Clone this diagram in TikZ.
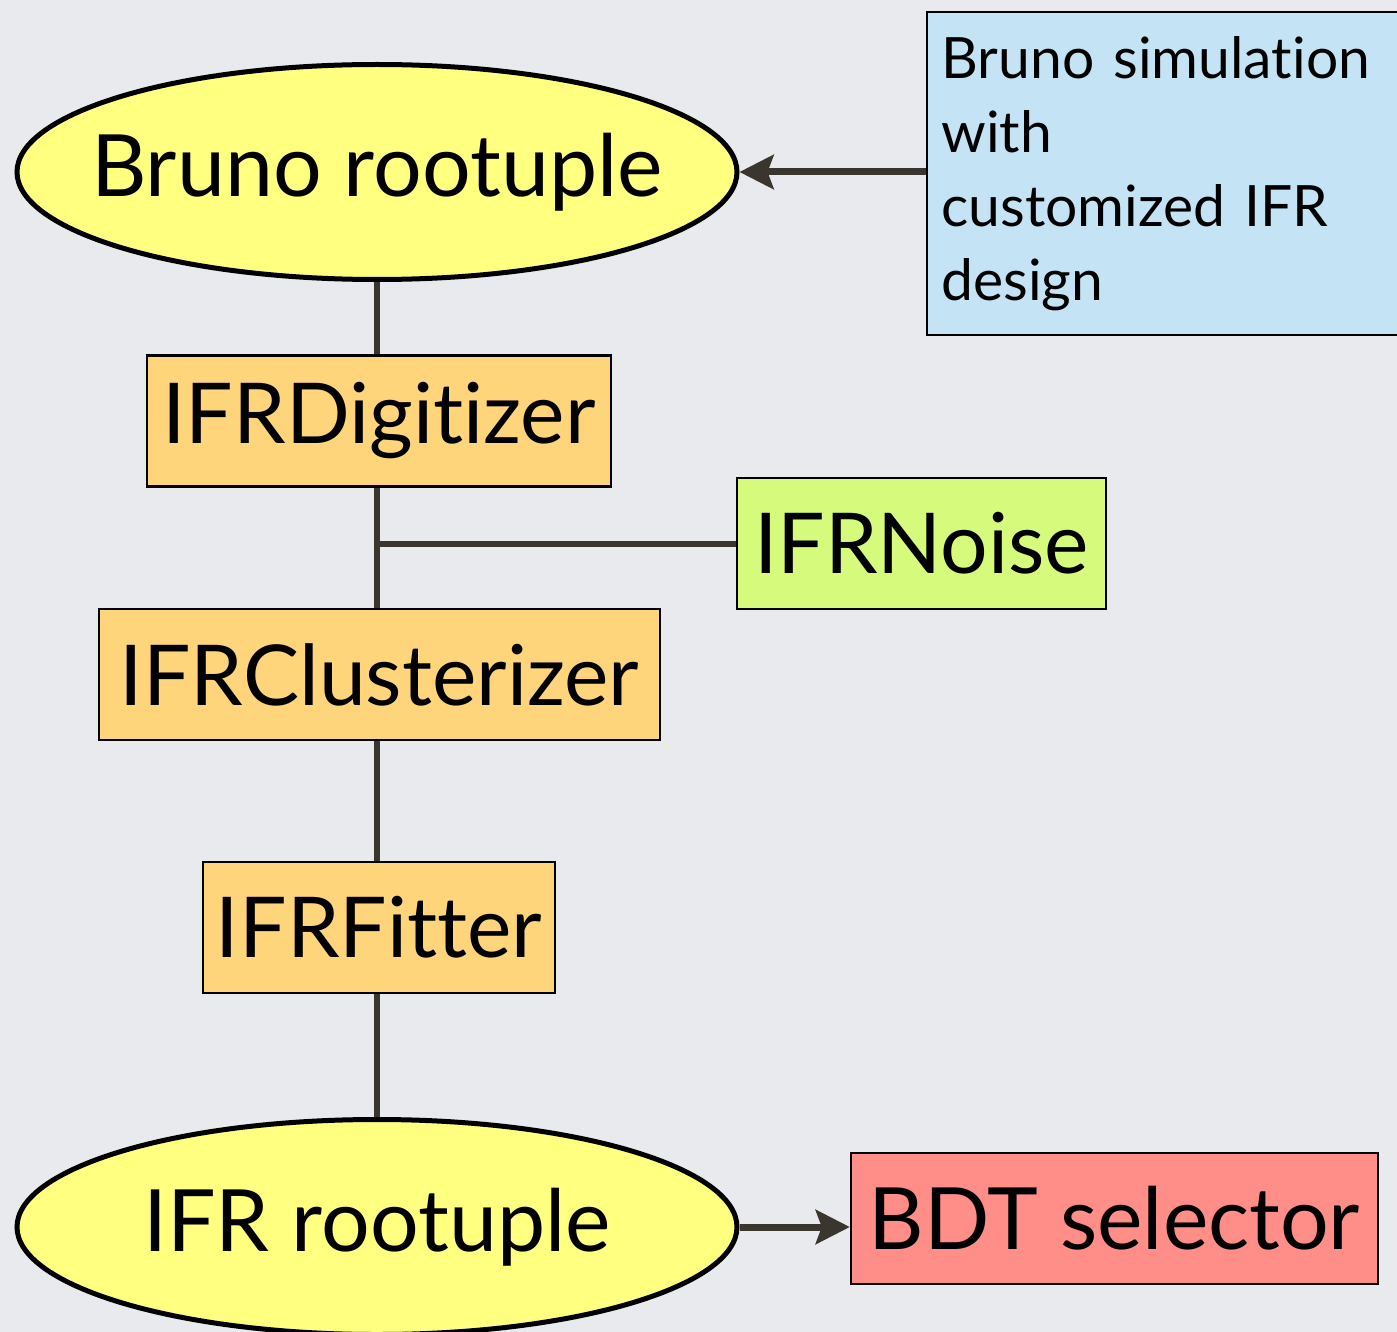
\documentclass[tikz,border=0pt]{standalone}
\usepackage{fontspec}
\setmainfont{Lato}[Ligatures=NoCommon]
\usetikzlibrary{shapes.geometric,arrows.meta}
\definecolor{bg}{HTML}{E9EAEE}
\definecolor{ylw}{HTML}{FFFF80}
\definecolor{org}{HTML}{FFD57C}
\definecolor{grn}{HTML}{D6FB7C}
\definecolor{blu}{HTML}{C4E3F4}
\definecolor{rd}{HTML}{FF8D88}
\definecolor{ln}{HTML}{3A362E}
\tikzset{
  ell/.style={ellipse, draw=black, line width=2.5pt, fill=ylw, minimum width=360pt, minimum height=107.5pt, inner sep=0pt, font=\fontsize{43}{50}\selectfont},
  proc/.style={rectangle, draw=black, line width=1.2pt, fill=org, minimum height=65.5pt, inner sep=0pt, font=\fontsize{42}{48}\selectfont},
  conn/.style={draw=ln, line width=3pt},
  arr/.style={draw=ln, line width=3.5pt, -{Stealth[length=17pt,width=17pt,inset=3pt]}},
}
\begin{document}
\begin{tikzpicture}[x=0.5pt,y=-0.5pt]
\fill[bg] (0,0) rectangle (1397,1332);
\useasboundingbox (0,0) rectangle (1397,1332);
\node[ell] (bruno) at (377,172) {\makebox[0pt]{Bruno rootuple}};
\node[rectangle, draw=black, line width=1.2pt, fill=blu, minimum width=236.5pt, minimum height=161.5pt,
      text width=222pt, inner xsep=7pt, align=left, font=\fontsize{28.5}{37}\selectfont] (sim) at (1163.5,173.5)
      {Bruno simulation\\with\\customized IFR\\design};
\node[proc, minimum width=232pt] (dig) at (379,421) {IFRDigitizer};
\node[proc, fill=grn, minimum width=184.5pt] (noise) at (921.5,543.5) {IFRNoise};
\node[proc, minimum width=280.5pt] (clus) at (379.5,674.5) {IFRClusterizer};
\node[proc, minimum width=176pt] (fit) at (379,927.5) {IFRFitter};
\node[ell] (ifr) at (377,1227) {\makebox[0pt]{IFR rootuple}};
\node[proc, fill=rd, minimum width=263.5pt, font=\fontsize{43}{48}\selectfont] (bdt) at (1114.5,1218.5) {BDT selector};
\draw[conn] (bruno.south) -- (bruno.south |- dig.north);
\draw[conn] (bruno.south |- dig.south) -- (bruno.south |- clus.north);
\draw[conn] (noise.west) -- (noise.west -| bruno.south);
\draw[conn] (bruno.south |- clus.south) -- (bruno.south |- fit.north);
\draw[conn] (bruno.south |- fit.south) -- (ifr.north);
\draw[arr] (sim.west |- bruno.east) -- (bruno.east);
\draw[arr] (ifr.east) -- (bdt.west |- ifr.east);
\end{tikzpicture}
\end{document}
